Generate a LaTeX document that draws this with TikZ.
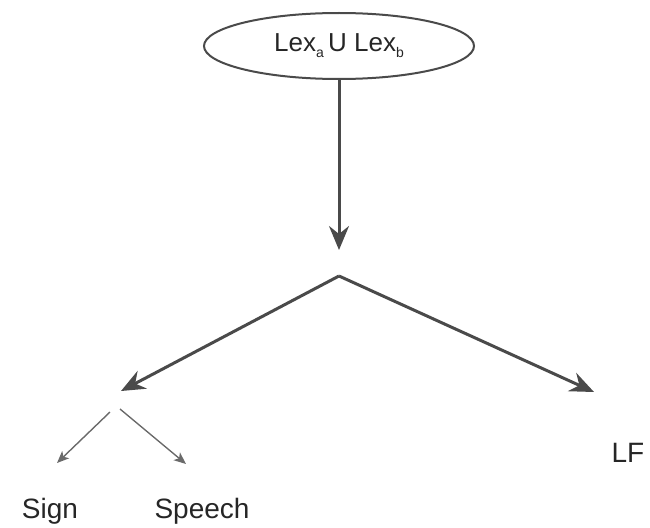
\documentclass[tikz,border=0pt]{standalone}
\usepackage{fontspec}
\setmainfont{Liberation Sans}
\usetikzlibrary{shapes.geometric,arrows.meta}
\definecolor{mainline}{HTML}{4A4A4A}
\definecolor{thinline}{HTML}{6A6A6A}
\definecolor{txt}{HTML}{262626}
\newcommand{\lowsub}[1]{\raisebox{-6pt}{\fontsize{14}{15}\selectfont #1}}
\begin{document}
\begin{tikzpicture}[x=1pt,y=-1pt,
  bigarrow/.style={draw=mainline,line width=3pt,-{Stealth[length=24pt,width=20pt,inset=8pt]}},
  smallarrow/.style={draw=thinline,line width=1.4pt,-{Stealth[length=12pt,width=10pt,inset=3pt]}},
  lbl/.style={text=txt,font=\fontsize{28}{32}\selectfont,inner sep=0pt}]
\useasboundingbox (0,0) rectangle (650,527);
\node[draw=mainline,line width=2pt,ellipse,minimum width=270pt,minimum height=66pt,inner sep=0pt,text=txt,font=\fontsize{26}{30}\selectfont] (lex) at (339,46) {Lex\lowsub{a}\,U Lex\lowsub{b}};
\coordinate (vtip) at (339,250);
\coordinate (apex) at (339,276);
\coordinate (ltip) at (121,391);
\coordinate (rtip) at (594,392);
\coordinate (sl) at (110,412);
\coordinate (sr) at (120,409);
\coordinate (sltip) at (57,463);
\coordinate (srtip) at (186,464);
\draw[bigarrow] (lex.south) -- (vtip);
\draw[bigarrow] (apex) -- (ltip);
\draw[bigarrow] (apex) -- (rtip);
\draw[smallarrow] (sl) -- (sltip);
\draw[smallarrow] (sr) -- (srtip);
\node[lbl,anchor=base] (sign) at (50,518) {Sign};
\node[lbl,anchor=base] (speech) at (202,518) {Speech};
\node[lbl,anchor=base] (lf) at (628,462) {LF};
\end{tikzpicture}
\end{document}
